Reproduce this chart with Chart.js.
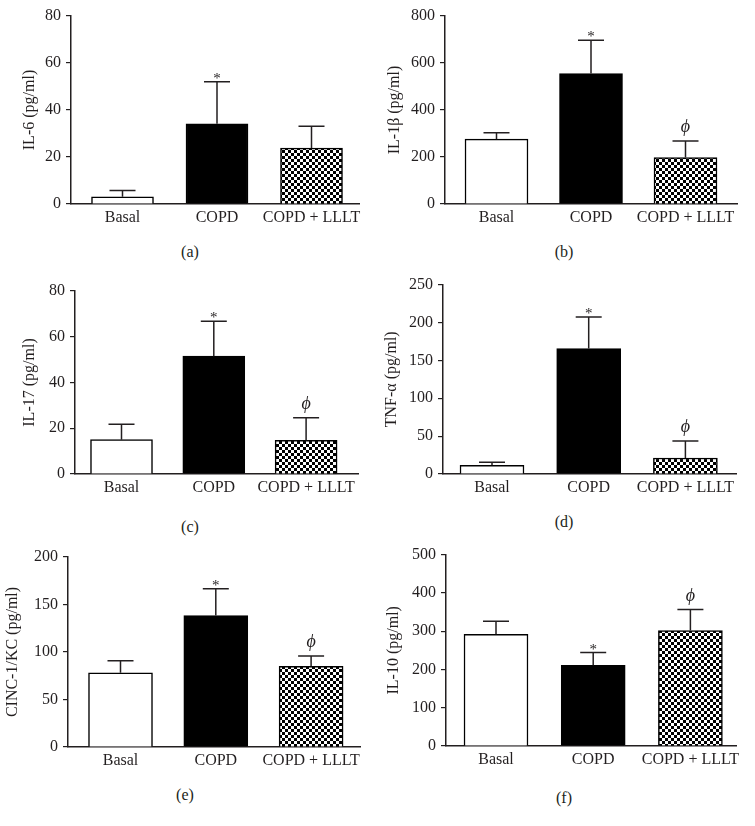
<!DOCTYPE html>
<html>
<head>
<meta charset="utf-8">
<script src="https://cdn.jsdelivr.net/npm/chart.js@4.4.0/dist/chart.umd.min.js"></script>
<style>
  html, body { margin: 0; padding: 0; background: #fff; }
  #page { position: relative; width: 755px; height: 826px; overflow: hidden; font-family: "Liberation Serif", serif; color: #231f20; }
  .panel { position: absolute; }
  .letter { position: absolute; font-size: 16px; transform: translate(-50%, -50%); white-space: nowrap; }
</style>
</head>
<body>
<div id="page"></div>
<script>
// groups on the x axis (same for every panel)
const groups = ['Basal', 'COPD', 'COPD + LLLT'];

// (a) IL-6
const il6Mean = [3.1, 34.1, 23.8];
const il6Sem = [2.6, 17.9, 9.3];
const il6Ticks = [0, 20, 40, 60, 80];
const il6Marks = ['', '*', ''];

// (b) IL-1beta
const il1bMean = [276, 555, 198];
const il1bSem = [27, 142, 70];
const il1bTicks = [0, 200, 400, 600, 800];
const il1bMarks = ['', '*', 'ϕ'];

// (c) IL-17
const il17Mean = [15.0, 51.5, 14.7];
const il17Sem = [6.8, 15.3, 9.9];
const il17Ticks = [0, 20, 40, 60, 80];
const il17Marks = ['', '*', 'ϕ'];

// (d) TNF-alpha
const tnfMean = [11.6, 165.5, 21.1];
const tnfSem = [3.9, 41.8, 22.4];
const tnfTicks = [0, 50, 100, 150, 200, 250];
const tnfMarks = ['', '*', 'ϕ'];

// (e) CINC-1/KC
const cincMean = [78.2, 138.3, 84.9];
const cincSem = [12.7, 28.4, 10.9];
const cincTicks = [0, 50, 100, 150, 200];
const cincMarks = ['', '*', 'ϕ'];

// (f) IL-10
const il10Mean = [292, 211, 301.5];
const il10Sem = [33.6, 33, 55];
const il10Ticks = [0, 100, 200, 300, 400, 500];
const il10Marks = ['', '*', 'ϕ'];

const ink = '#231f20';
const serif = '"Liberation Serif", "Times New Roman", serif';
const fontSize = 16;
const canvasW = 377, canvasH = 240;

// layout of the six panels (pixel boxes, kept apart from the data)
// first = px from the y axis to the first bar centre, step = px between bar centres
const panels = [
  { letter: '(a)', title: 'IL-6 (pg/ml)', mean: il6Mean, sem: il6Sem, ticks: il6Ticks, marks: il6Marks,
    left: 0, top: 0, axisX: 71, areaTop: 16, areaRight: 359, areaBottom: 204, titleX: 30, letterX: 190, letterY: 252,
    first: 51.5, step: 94.5, barW: 62 },
  { letter: '(b)', title: 'IL-1β (pg/ml)', mean: il1bMean, sem: il1bSem, ticks: il1bTicks, marks: il1bMarks,
    left: 377, top: 0, axisX: 68, areaTop: 16, areaRight: 360, areaBottom: 204, titleX: 18, letterX: 187, letterY: 252,
    first: 51.5, step: 94.5, barW: 63 },
  { letter: '(c)', title: 'IL-17 (pg/ml)', mean: il17Mean, sem: il17Sem, ticks: il17Ticks, marks: il17Marks,
    left: 0, top: 270, axisX: 75, areaTop: 21, areaRight: 358, areaBottom: 204, titleX: 30, letterX: 190, letterY: 257,
    first: 46.5, step: 92.3, barW: 62 },
  { letter: '(d)', title: 'TNF-α (pg/ml)', mean: tnfMean, sem: tnfSem, ticks: tnfTicks, marks: tnfMarks,
    left: 377, top: 270, axisX: 66, areaTop: 11, areaRight: 359, areaBottom: 204, titleX: 15, letterX: 187, letterY: 252,
    first: 49, step: 96.7, barW: 64 },
  { letter: '(e)', title: 'CINC-1/KC (pg/ml)', mean: cincMean, sem: cincSem, ticks: cincTicks, marks: cincMarks,
    left: 0, top: 540, axisX: 68, areaTop: 17, areaRight: 360, areaBottom: 207, titleX: 13, letterX: 185, letterY: 255,
    first: 52.5, step: 95.3, barW: 64 },
  { letter: '(f)', title: 'IL-10 (pg/ml)', mean: il10Mean, sem: il10Sem, ticks: il10Ticks, marks: il10Marks,
    left: 377, top: 540, axisX: 69, areaTop: 12, areaRight: 359, areaBottom: 206, titleX: 17, letterX: 187, letterY: 258,
    first: 50, step: 97.2, barW: 64 }
];

// black/white checkerboard for the COPD + LLLT bars
function checkerPattern() {
  const c = document.createElement('canvas');
  c.width = 6; c.height = 6;
  const g = c.getContext('2d');
  g.fillStyle = '#fff';
  g.fillRect(0, 0, 6, 6);
  g.fillStyle = '#000';
  g.fillRect(0, 0, 3, 3);
  g.fillRect(3, 3, 3, 3);
  return g.createPattern(c, 'repeat');
}

// upper SEM whiskers plus the * / phi marks above them
const errorBars = {
  id: 'errorBars',
  afterDatasetsDraw(chart, args, opts) {
    const ctx = chart.ctx;
    const y = chart.scales.y;
    const meta = chart.getDatasetMeta(0);
    ctx.save();
    ctx.strokeStyle = ink;
    ctx.lineWidth = 1.5;
    meta.data.forEach((bar, i) => {
      const mean = chart.data.datasets[0].data[i].y;
      const yTop = y.getPixelForValue(mean + opts.sem[i]);
      ctx.beginPath();
      ctx.moveTo(bar.x, bar.y);
      ctx.lineTo(bar.x, yTop);
      ctx.moveTo(bar.x - 13, yTop);
      ctx.lineTo(bar.x + 13, yTop);
      ctx.stroke();
      const mark = opts.marks[i];
      if (mark) {
        ctx.fillStyle = ink;
        ctx.textAlign = 'center';
        ctx.textBaseline = 'alphabetic';
        if (mark === '*') {
          ctx.font = '15px ' + serif;
          ctx.fillText(mark, bar.x, yTop + 1);
        } else {
          ctx.font = 'italic 18px ' + serif;
          ctx.fillText(mark, bar.x, yTop - 9);
        }
      }
    });
    ctx.restore();
  }
};

const page = document.getElementById('page');
const checker = checkerPattern();

panels.forEach(p => {
  const canvas = document.createElement('canvas');
  canvas.className = 'panel';
  canvas.width = canvasW;
  canvas.height = canvasH;
  canvas.style.left = p.left + 'px';
  canvas.style.top = p.top + 'px';
  canvas.style.width = canvasW + 'px';
  canvas.style.height = canvasH + 'px';
  page.appendChild(canvas);

  const label = document.createElement('div');
  label.className = 'letter';
  label.textContent = p.letter;
  label.style.left = (p.left + p.letterX) + 'px';
  label.style.top = (p.top + p.letterY) + 'px';
  page.appendChild(label);

  const xMin = -p.first / p.step;
  const xMax = xMin + (p.areaRight - p.axisX) / p.step;

  new Chart(canvas.getContext('2d'), {
    type: 'bar',
    data: {
      datasets: [{
        data: p.mean.map((v, i) => ({ x: i, y: v })),
        backgroundColor: ['#fff', '#000', checker],
        borderColor: '#000',
        borderWidth: 1.5,
        barThickness: p.barW
      }]
    },
    plugins: [errorBars],
    options: {
      responsive: false,
      animation: false,
      devicePixelRatio: 1,
      layout: { padding: { top: p.areaTop, right: canvasW - p.areaRight, bottom: 0, left: 0 } },
      plugins: {
        legend: { display: false },
        tooltip: { enabled: false },
        errorBars: { sem: p.sem, marks: p.marks }
      },
      scales: {
        x: {
          type: 'linear',
          min: xMin,
          max: xMax,
          offset: false,
          afterFit: s => { s.height = canvasH - p.areaBottom; },
          afterBuildTicks: s => { s.ticks = groups.map((g, i) => ({ value: i })); },
          grid: { display: true, drawOnChartArea: false, drawTicks: false },
          border: { color: ink, width: 1.5 },
          ticks: {
            color: ink, font: { family: serif, size: fontSize }, padding: 4, maxRotation: 0, autoSkip: false,
            callback: v => groups[v]
          }
        },
        y: {
          min: p.ticks[0],
          max: p.ticks[p.ticks.length - 1],
          afterFit: s => { s.width = p.axisX; },
          afterBuildTicks: s => { s.ticks = p.ticks.map(v => ({ value: v })); },
          grid: { drawOnChartArea: false, drawTicks: true, tickLength: 5, color: ink, lineWidth: 1.2 },
          border: { color: ink, width: 1.5 },
          ticks: { color: ink, font: { family: serif, size: fontSize }, padding: 5 },
          title: {
            display: true,
            text: p.title,
            color: ink,
            font: { family: serif, size: fontSize },
            padding: { top: p.titleX - 9.6, bottom: 0 }
          }
        }
      }
    }
  });
});
</script>
</body>
</html>
